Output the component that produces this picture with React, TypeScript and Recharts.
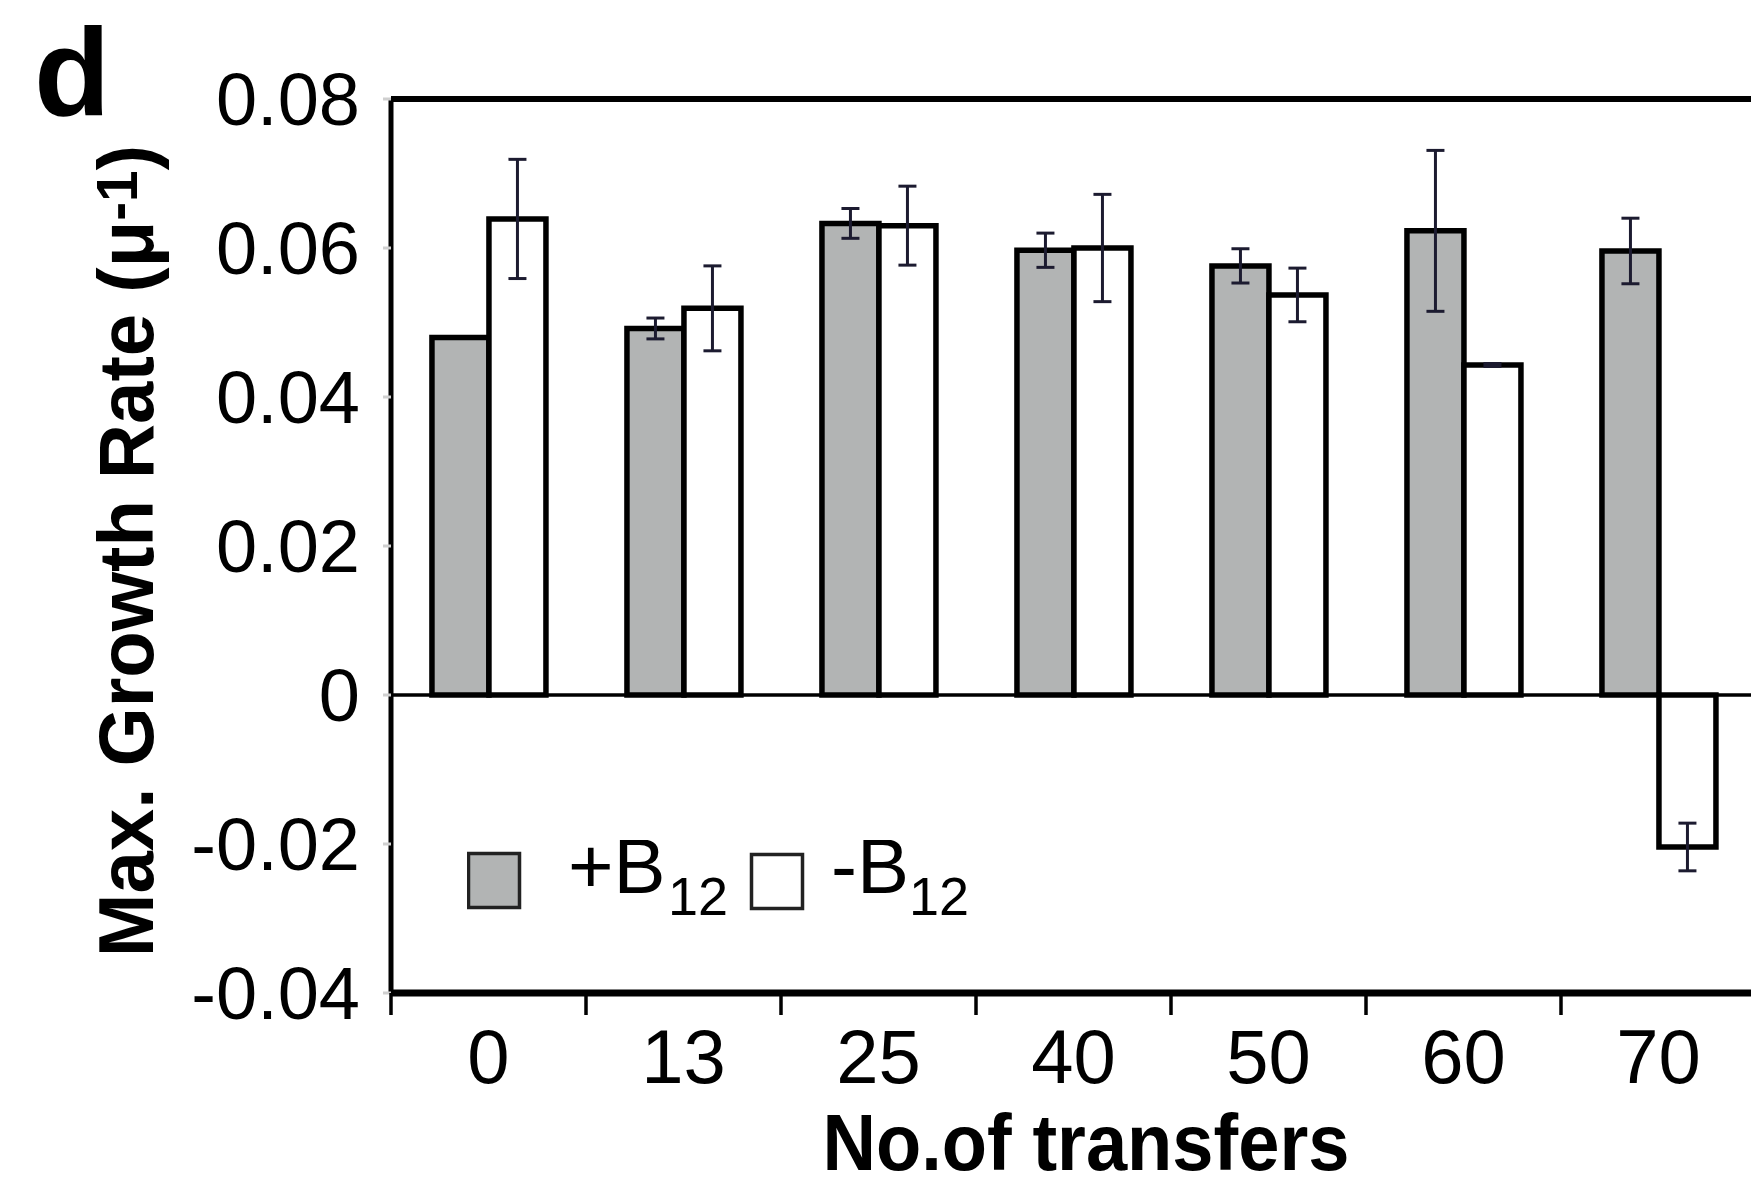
import React from 'react'
import {
  BarChart,
  Bar,
  XAxis,
  YAxis,
  ErrorBar,
  ReferenceLine,
  Legend,
} from 'recharts'

const FONT = "'Liberation Sans', Arial, Helvetica, sans-serif"

// No. of transfers
const transfers = ['0', '13', '25', '40', '50', '60', '70']

// +B12 (grey) and -B12 (white) max. growth rates, with error bars
const plusB12 = [0.048, 0.0492, 0.0633, 0.0597, 0.0576, 0.0623, 0.0596]
const plusErr = [0, 0.0014, 0.002, 0.0023, 0.0023, 0.0108, 0.0044]
const minusB12 = [0.0639, 0.0519, 0.063, 0.06, 0.0537, 0.0443, -0.0204]
const minusErr = [0.008, 0.0057, 0.0053, 0.0072, 0.0036, 0.0002, 0.0032]

const yTicks = [-0.04, -0.02, 0, 0.02, 0.04, 0.06, 0.08]

const data = transfers.map((t, i) => ({
  transfers: t,
  plus: plusB12[i],
  plusErr: plusErr[i],
  minus: minusB12[i],
  minusErr: minusErr[i],
}))

const GREY = '#b2b4b4'
const ERR = '#1c1b30'

function fmtTick(v: number): string {
  if (v === 0) return '0'
  return v.toFixed(2)
}

function XTick(props: any) {
  const { x, y, payload } = props
  const half = payload?.offset ?? 0
  return (
    <g>
      <line x1={x - half} x2={x - half} y1={y} y2={y + 22} stroke="#000" strokeWidth={3.5} />
      <text x={x} y={y + 90} textAnchor="middle" fontSize={76} fontFamily={FONT} fill="#000">
        {payload.value}
      </text>
    </g>
  )
}

function YTitle(props: any) {
  const vb = props.viewBox || { x: 0, y: 0, height: 0 }
  const cx = vb.x + 153
  const cy = vb.y + vb.height / 2 + 5
  return (
    <text
      x={0}
      y={0}
      transform={`translate(${cx}, ${cy}) rotate(-90)`}
      textAnchor="middle"
      fontSize={78}
      fontWeight="bold"
      fontFamily={FONT}
      fill="#000"
      textLength={812}
      lengthAdjust="spacingAndGlyphs"
    >
      Max. Growth Rate (μ
      <tspan fontSize={58} dy={-16}>-1</tspan>
      <tspan dy={16}>)</tspan>
    </text>
  )
}

function XTitle(props: any) {
  const vb = props.viewBox || { x: 0, y: 0 }
  return (
    <text
      x={vb.x + 695}
      y={vb.y + 177}
      textAnchor="middle"
      fontSize={80}
      fontWeight="bold"
      fontFamily={FONT}
      fill="#000"
      textLength={527}
      lengthAdjust="spacingAndGlyphs"
    >
      No.of transfers
    </text>
  )
}

function LegendBox() {
  return (
    <svg width={560} height={130}>
      <rect x={1.5} y={13.5} width={51} height={54} fill={GREY} stroke="#222" strokeWidth={3.5} />
      <text x={101} y={53} fontSize={78} fontFamily={FONT} fill="#000">+B</text>
      <text x={201} y={75} fontSize={54} fontFamily={FONT} fill="#000">12</text>
      <rect x={284.5} y={14.5} width={51} height={54} fill="#fff" stroke="#222" strokeWidth={3.5} />
      <text x={364} y={53} fontSize={78} fontFamily={FONT} fill="#000">-B</text>
      <text x={442} y={75} fontSize={54} fontFamily={FONT} fill="#000">12</text>
    </svg>
  )
}

export default function App() {
  return (
    <div
      style={{
        position: 'absolute',
        left: 0,
        top: 0,
        width: 1751,
        height: 1182,
        overflow: 'hidden',
        background: '#fff',
      }}
    >
      <svg width={200} height={160} style={{ position: 'absolute', left: 0, top: 0 }}>
        <text x={34} y={115} fontSize={125} fontWeight="bold" fontFamily={FONT} fill="#000">
          d
        </text>
      </svg>
      <BarChart
        width={1768}
        height={1182}
        data={data}
        margin={{ top: 99, right: 12, bottom: 0, left: 0 }}
        barCategoryGap="21%"
        barGap={0}
      >
        <XAxis
          dataKey="transfers"
          height={189}
          interval={0}
          axisLine={{ stroke: '#000', strokeWidth: 7 }}
          tickLine={false}
          tickSize={0}
          tickMargin={0}
          tick={<XTick />}
          label={<XTitle />}
        />
        <YAxis
          type="number"
          domain={[-0.04, 0.08]}
          ticks={yTicks}
          width={391}
          axisLine={{ stroke: '#000', strokeWidth: 5 }}
          tickLine={{ stroke: '#cfcfcf', strokeWidth: 3 }}
          tickSize={8}
          tickMargin={23}
          tickFormatter={fmtTick}
          tick={{ fontSize: 74, fill: '#000', fontFamily: FONT }}
          label={<YTitle />}
        />
        <ReferenceLine y={0.08} stroke="#000" strokeWidth={6} />
        <Bar dataKey="plus" fill={GREY} stroke="#000" strokeWidth={5.5} isAnimationActive={false}>
          <ErrorBar dataKey="plusErr" direction="y" width={9} stroke={ERR} strokeWidth={3} isAnimationActive={false} />
        </Bar>
        <Bar dataKey="minus" fill="#fff" stroke="#000" strokeWidth={5.5} isAnimationActive={false}>
          <ErrorBar dataKey="minusErr" direction="y" width={9} stroke={ERR} strokeWidth={3} isAnimationActive={false} />
        </Bar>
        <ReferenceLine y={0} stroke="#000" strokeWidth={3.5} />
        <Legend
          layout="horizontal"
          verticalAlign="middle"
          align="center"
          wrapperStyle={{ left: 467, top: 840, width: 560, height: 130 }}
          content={() => <LegendBox />}
        />
      </BarChart>
    </div>
  )
}
